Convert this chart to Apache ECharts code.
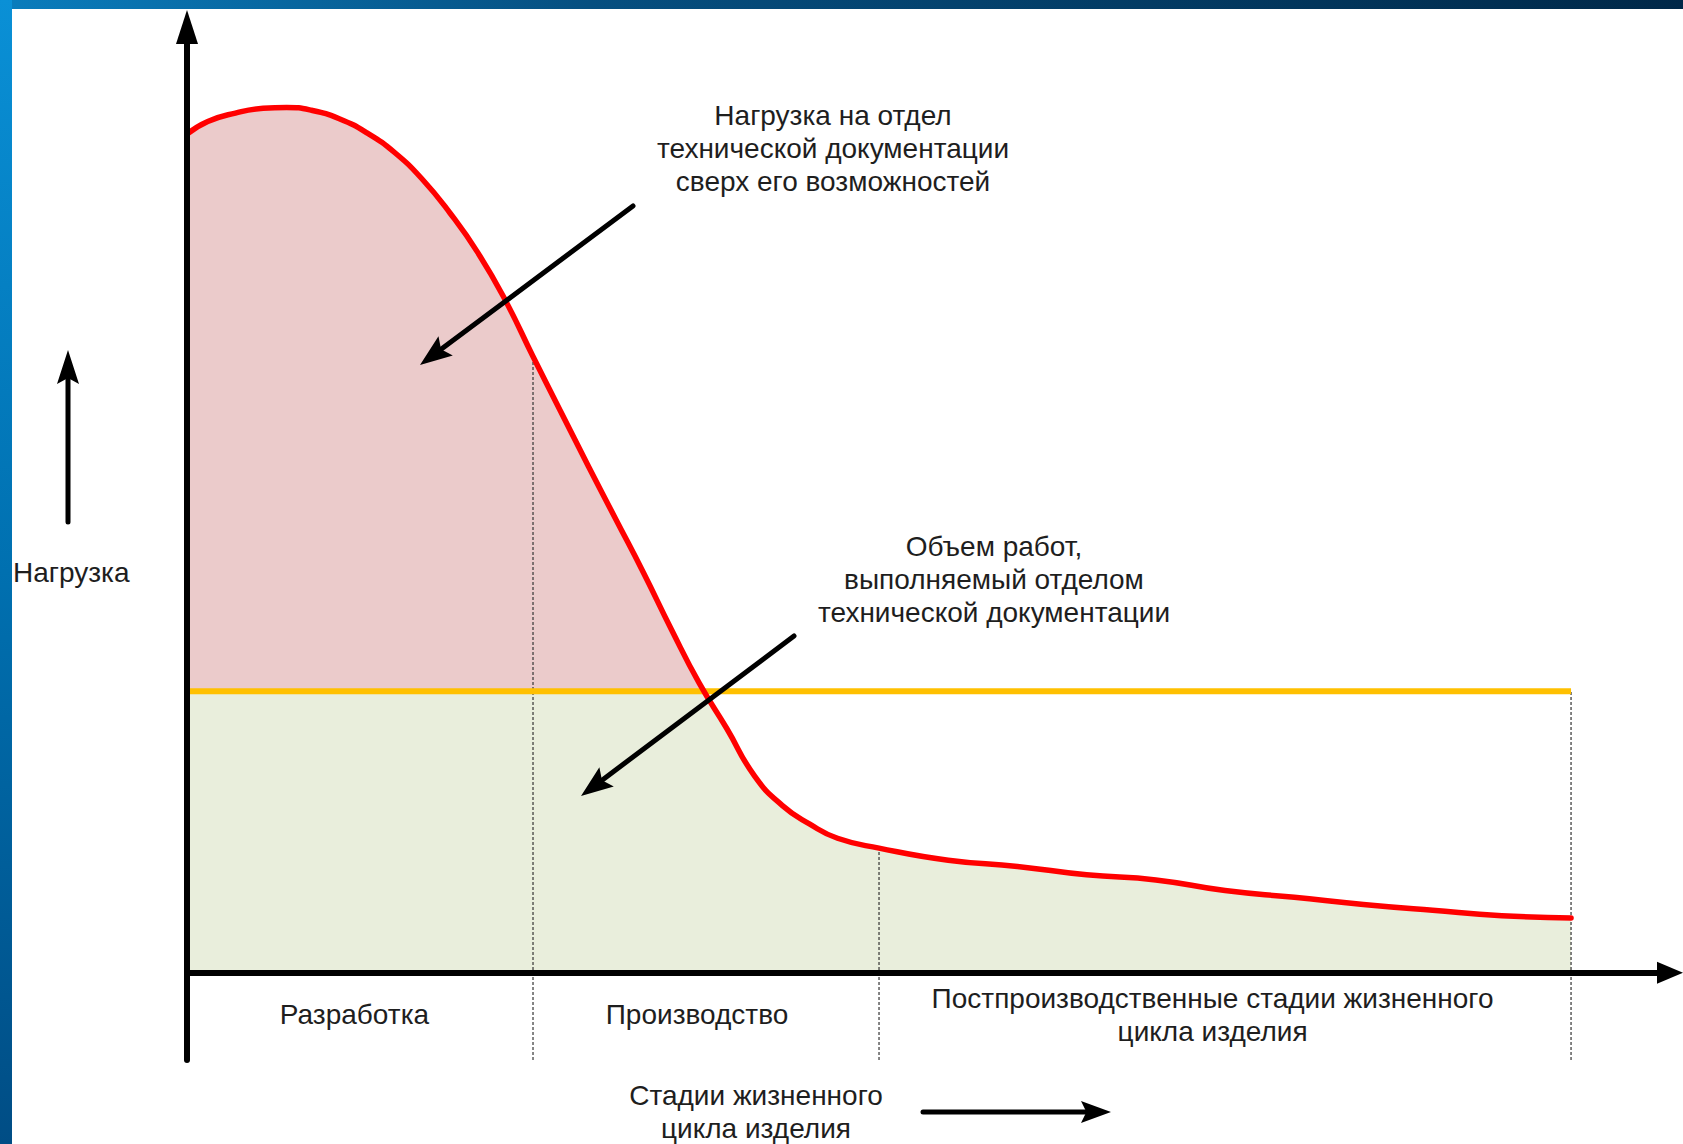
<!DOCTYPE html>
<html><head><meta charset="utf-8">
<script src="https://cdn.jsdelivr.net/npm/echarts@6/dist/echarts.min.js"></script>
<style>html,body{margin:0;padding:0;background:#fff}#c{width:1683px;height:1144px}</style>
</head><body><div id="c"></div>
<script>
// ---- data (x: lifecycle position, 0..100; y: load, capacity = 100) ----
const curveX = [0, 1.5, 3.5, 5.5, 7.2, 9, 11, 13, 15, 17, 19, 21, 23, 25, 27, 29, 31, 33, 35, 37, 39, 41, 43, 45, 47, 50, 55, 60, 65, 70, 75, 80, 85, 90, 95, 100];
const curveY = [298, 302.5, 305.5, 307.2, 307.5, 306.5, 303.5, 298.5, 291.5, 282, 270, 256, 239, 219, 199.5, 180, 161, 142, 122, 103, 86.8, 70, 59.5, 52.8, 47.8, 44.3, 40, 37.8, 34.8, 33, 29.2, 26.8, 24.3, 22.2, 20.3, 19.5];
const capacityLevel = 100;
const stageBounds = [25, 50, 100];
const dividerTops = [219, 44.3, 100];
const stageNames = ['Разработка', 'Производство', 'Постпроизводственные стадии жизненного\nцикла изделия'];
const stageCenters = [12.1, 36.85, 74.1];
const stageLabelY = -15;
const xMin = 0, xMax = 107.15, yMin = -31, yMax = 336.1;

const FONT = '"Liberation Sans", Arial, sans-serif';
const FS = 28;
const TXT = '#1e1e1e';
const curve = curveX.map((x, i) => [x, curveY[i]]);

function arrow(x1, y1, x2, y2, hl, hw, lw) {
  const dx = x2 - x1, dy = y2 - y1, L = Math.hypot(dx, dy), ux = dx / L, uy = dy / L;
  const bx = x2 - ux * hl, by = y2 - uy * hl, px = -uy * hw / 2, py = ux * hw / 2;
  const nx = x2 - ux * hl * 0.82, ny = y2 - uy * hl * 0.82;
  return [
    { type: 'line', silent: true, z: 100, shape: { x1, y1, x2: nx + ux * 2, y2: ny + uy * 2 }, style: { stroke: '#000', lineWidth: lw, lineCap: 'round' } },
    { type: 'polygon', silent: true, z: 100, shape: { points: [[x2, y2], [bx + px, by + py], [nx, ny], [bx - px, by - py]] }, style: { fill: '#000' } }
  ];
}
function txt(text, x, y, align) {
  return { type: 'text', silent: true, z: 100, style: { text, x, y, align: align || 'center', verticalAlign: 'middle', fontSize: FS, fontFamily: FONT, lineHeight: 33, fill: TXT } };
}

const chart = echarts.init(document.getElementById('c'), null, { renderer: 'svg' });
chart.setOption({
  animation: false,
  backgroundColor: '#ffffff',
  grid: { left: 187, right: 13, top: 27, bottom: 84, outerBoundsMode: 'none', containLabel: false },
  xAxis: {
    type: 'value', min: xMin, max: xMax, z: 10,
    axisLine: { show: true, onZero: true, symbol: ['none', 'triangle'], symbolSize: [22, 26], lineStyle: { color: '#000', width: 6 } },
    axisTick: { show: false }, axisLabel: { show: false }, splitLine: { show: false }
  },
  yAxis: {
    type: 'value', min: yMin, max: yMax, z: 10,
    axisLine: { show: true, onZero: true, symbol: ['none', 'triangle'], symbolSize: [22, 34], lineStyle: { color: '#000', width: 6, cap: 'round' } },
    axisTick: { show: false }, axisLabel: { show: false }, splitLine: { show: false }
  },
  visualMap: {
    show: false, type: 'piecewise', seriesIndex: 0, dimension: 1,
    pieces: [{ min: yMin, max: capacityLevel, color: '#e9eedc' }, { min: capacityLevel, max: yMax, color: '#ebcbcb' }],
    outOfRange: { color: '#ebcbcb' }
  },
  series: [
    { type: 'line', name: 'area', data: curve, smooth: 0.5, showSymbol: false, symbol: 'none', silent: true, z: 2,
      lineStyle: { width: 0, opacity: 0 }, areaStyle: { opacity: 1 } },
    ...stageBounds.map((b, i) => ({
      type: 'line', data: [[b, yMin], [b, dividerTops[i]]], showSymbol: false, symbol: 'none', silent: true, z: 3,
      lineStyle: { color: '#333', width: 1.2, type: [3, 2] }
    })),
    { type: 'line', name: 'capacity', data: [[0, capacityLevel], [stageBounds[2], capacityLevel]], showSymbol: false, symbol: 'none', silent: true, z: 4,
      lineStyle: { color: '#ffc000', width: 6 } },
    { type: 'line', name: 'load', data: curve, smooth: 0.5, showSymbol: false, symbol: 'none', silent: true, z: 5,
      lineStyle: { color: '#ff0000', width: 5.5, join: 'round', cap: 'round' } },
    { type: 'scatter', data: stageCenters.map(x => [x, stageLabelY]), symbolSize: 1, silent: true, z: 6,
      itemStyle: { color: 'transparent', opacity: 1 },
      label: { show: true, position: 'inside', opacity: 1, formatter: p => stageNames[p.dataIndex], fontSize: FS, lineHeight: 33, fontFamily: FONT, color: TXT } }
  ],
  graphic: { elements: [
    { type: 'rect', silent: true, z: 200, shape: { x: 0, y: 0, width: 1683, height: 9 },
      style: { fill: new echarts.graphic.LinearGradient(0, 0, 1, 0, [{ offset: 0, color: '#0a7dbd' }, { offset: 0.35, color: '#064f80' }, { offset: 1, color: '#002848' }]) } },
    { type: 'rect', silent: true, z: 200, shape: { x: 0, y: 0, width: 12, height: 1144 },
      style: { fill: new echarts.graphic.LinearGradient(0, 0, 0, 1, [{ offset: 0, color: '#0a90d6' }, { offset: 0.5, color: '#0070b0' }, { offset: 1, color: '#004d85' }]) } },
    txt('Нагрузка на отдел\nтехнической документации\nсверх его возможностей', 833, 148),
    txt('Объем работ,\nвыполняемый отделом\nтехнической документации', 994, 579),
    txt('Нагрузка', 13, 572, 'left'),
    txt('Стадии жизненного\nцикла изделия', 756, 1112),
    ...arrow(68, 522, 68, 350, 34, 22, 5),
    ...arrow(633, 206, 420, 365, 32, 24, 5),
    ...arrow(794, 636, 581, 796, 32, 24, 5),
    ...arrow(923, 1112, 1111, 1112, 30, 22, 5)
  ] }
});
</script></body></html>
